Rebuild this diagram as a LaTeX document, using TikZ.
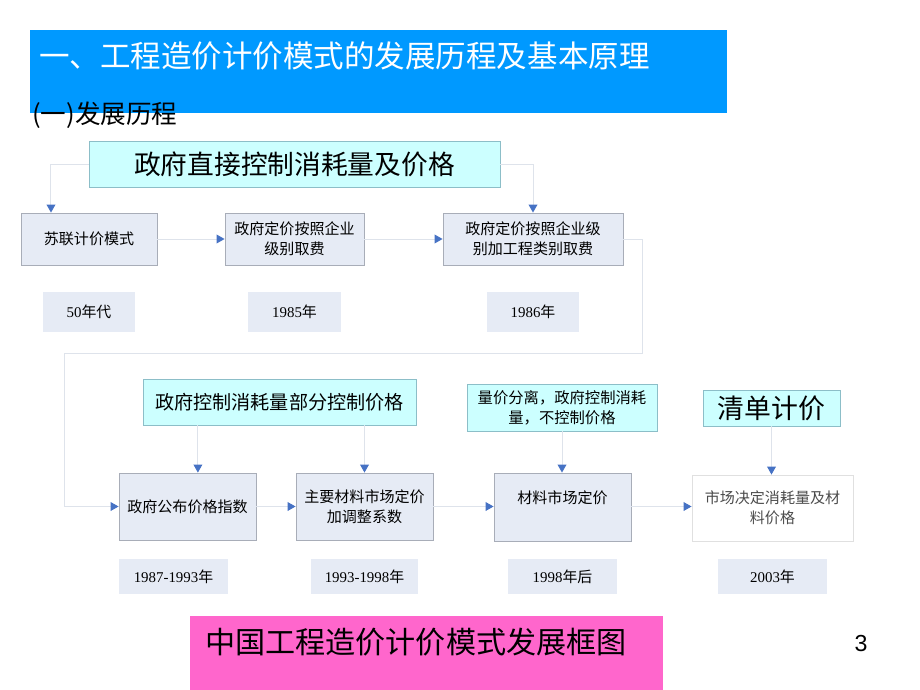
\documentclass[tikz,border=0pt]{standalone}
\usepackage{fontspec}
\setmainfont{Noto Sans CJK SC}
\newfontfamily\timesfont{Liberation Serif}
\newfontfamily\arialfont{Liberation Sans}
\usetikzlibrary{arrows.meta,
                positioning}
\definecolor{titleblue}{RGB}{0,153,255}
\definecolor{stagefill}{RGB}{230,235,245}
\definecolor{stageline}{RGB}{168,173,184}
\definecolor{policyfill}{RGB}{204,255,255}
\definecolor{policyline}{RGB}{140,190,200}
\definecolor{connline}{RGB}{222,227,235}
\definecolor{tipblue}{RGB}{70,114,196}
\definecolor{captionpink}{RGB}{255,102,204}
\tikzset{stage/.style=
   {rectangle,
    draw=stageline,
    line width=0.6pt,
    fill=stagefill,
    align=center,
    inner sep=0pt,
    font=\fontsize{10.7}{14.2}\selectfont}}
\tikzset{policy/.style =
   {rectangle,
    draw=policyline,
    line width=0.6pt,
    fill=policyfill,
    align=center,
    inner sep=0pt}}
\tikzset{year/.style =
   {rectangle,
    fill=stagefill,
    inner sep=0pt,
    font=\fontsize{10.6}{13}\selectfont}}
\tikzset{arrow/.style = {draw=connline, line width=0.7pt,
    -{Triangle[color=tipblue, length=0.2cm, width=0.22cm]}}}
\begin{document}
\begin{tikzpicture}[x=0.025cm, y=-0.025cm]

    \useasboundingbox (0,0) rectangle (920,690);

    % heading
    \fill[titleblue] (30,30) rectangle (727,113);
    \node [anchor=west,
           inner sep=0pt,
           text=white,
           font=\fontsize{21.7}{26}\selectfont] (title) at (39,56)
          {一、工程造价计价模式的发展历程及基本原理};
    \node [anchor=west,
           inner sep=0pt,
           font=\fontsize{18.2}{21}\selectfont] (section) at (32,115)
          {(一)发展历程};

    % first row
    \node [policy,
           minimum width=10.275cm,
           minimum height=1.15cm,
           font=\fontsize{19}{22}\selectfont] (top) at (294.5,164)
          {政府直接控制消耗量及价格};

    \node [stage,
           minimum width=3.4cm,
           minimum height=1.3cm] (soviet) at (89,239) {苏联计价模式};
    \node [stage,
           minimum width=3.475cm,
           minimum height=1.3cm] (grade) at (294.5,239)
          {政府定价按照企业\\级别取费};
    \node [stage,
           minimum width=4.5cm,
           minimum height=1.3cm] (category) at (533,239)
          {政府定价按照企业级\\别加工程类别取费};

    \node [year,
           minimum width=2.3cm,
           minimum height=1cm,
           below of = soviet,
           node distance = 1.825cm] (year50) {{\timesfont 50}年代};
    \node [year,
           minimum width=2.3cm,
           minimum height=1cm,
           below of = grade,
           node distance = 1.825cm] (year85) {{\timesfont 1985}年};
    \node [year,
           minimum width=2.3cm,
           minimum height=1cm,
           below of = category,
           node distance = 1.825cm] (year86) {{\timesfont 1986}年};

    % second row
    \node [policy,
           minimum width=6.825cm,
           minimum height=1.15cm,
           font=\fontsize{13.6}{16}\selectfont] (partial) at (279.5,402)
          {政府控制消耗量部分控制价格};
    \node [policy,
           minimum width=4.75cm,
           minimum height=1.175cm,
           font=\fontsize{10.9}{14.5}\selectfont] (separate) at (562,407.5)
          {量价分离，政府控制消耗\\量，不控制价格};
    \node [policy,
           minimum width=3.425cm,
           minimum height=0.9cm,
           font=\fontsize{19.1}{22}\selectfont] (bill) at (771.5,408)
          {清单计价};

    \node [stage,
           minimum width=3.425cm,
           minimum height=1.675cm] (index) at (187.5,506.5)
          {政府公布价格指数};
    \node [stage,
           minimum width=3.425cm,
           minimum height=1.675cm] (adjust) at (364.5,506.5)
          {主要材料市场定价\\加调整系数};
    \node [stage,
           minimum width=3.425cm,
           minimum height=1.7cm] (material) at (562.5,507)
          {材料市场定价\\~};
    \node [stage,
           draw=black!12,
           fill=white,
           text=black!70,
           minimum width=4.025cm,
           minimum height=1.65cm] (market) at (772.5,508)
          {市场决定消耗量及材\\料价格};

    \node [year,
           minimum width=2.725cm,
           minimum height=0.875cm] (year87) at (173.5,576.5)
          {{\timesfont 1987-1993}年};
    \node [year,
           minimum width=2.675cm,
           minimum height=0.875cm,
           below of = adjust,
           node distance = 1.75cm] (year93) {{\timesfont 1993-1998}年};
    \node [year,
           minimum width=2.7cm,
           minimum height=0.875cm,
           below of = material,
           node distance = 1.7375cm] (year98) {{\timesfont 1998}年后};
    \node [year,
           minimum width=2.7cm,
           minimum height=0.875cm,
           below of = market,
           node distance = 1.7125cm] (year03) {{\timesfont 2003}年};

    % connectors
    \draw [arrow] (top.west) -| ([xshift=-0.95cm]soviet.north);
    \draw [arrow] (top.east) -| (category.north);
    \draw [arrow] (soviet) -- (grade);
    \draw [arrow] (grade) -- (category);

    \coordinate (turnR) at (642,353);
    \coordinate (turnL) at (64,353);
    \draw [arrow] (category.east) -| (turnR) -- (turnL) |- (index.west);

    \path ([xshift=0.26cm]index.north) coordinate (indexin);
    \draw [arrow] (partial.south -| indexin) -- (indexin);
    \draw [arrow] (partial.south -| adjust.north) -- (adjust.north);
    \draw [arrow] (separate.south) -- (separate.south |- material.north);
    \draw [arrow] (bill.south) -- (bill.south |- market.north);

    \draw [arrow] (index) -- (adjust);
    \draw [arrow] (adjust) -- (adjust -| material.west);
    \draw [arrow] (material.east |- adjust) -- (adjust -| market.west);

    % caption
    \fill[captionpink] (190,616) rectangle (663,690);
    \node [anchor=west,
           inner sep=0pt,
           font=\fontsize{21.4}{25}\selectfont] (caption) at (205,642)
          {中国工程造价计价模式发展框图};
    \node [inner sep=0pt,
           font=\arialfont\fontsize{16.5}{20}\selectfont] (page) at (861,644) {3};

\end{tikzpicture}
\end{document}
